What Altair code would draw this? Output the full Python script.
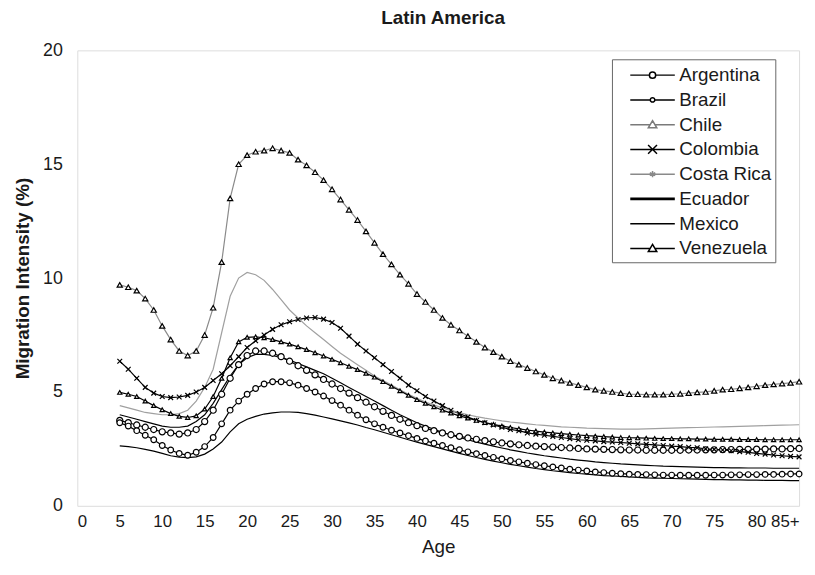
import altair as alt
import pandas as pd

# ---------------- data ----------------
ages = list(range(5, 86))
countries = ["Argentina", "Brazil", "Chile", "Colombia", "Costa Rica", "Ecuador", "Mexico", "Venezuela"]
x_ticks = list(range(0, 90, 5))
y_ticks = [0, 5, 10, 15, 20]

argentina = [3.75, 3.65, 3.55, 3.45, 3.35, 3.25, 3.2, 3.15, 3.2, 3.35,
             3.7, 4.2, 4.9, 5.6, 6.2, 6.6, 6.8, 6.8, 6.7, 6.55,
             6.35, 6.15, 5.95, 5.75, 5.55, 5.35, 5.15, 4.95, 4.75, 4.55,
             4.35, 4.15, 3.97, 3.8, 3.65, 3.52, 3.4, 3.3, 3.2, 3.12,
             3.05, 2.98, 2.92, 2.86, 2.81, 2.76, 2.72, 2.68, 2.65, 2.62,
             2.6, 2.58, 2.56, 2.54, 2.52, 2.5, 2.49, 2.48, 2.47, 2.46,
             2.45, 2.45, 2.44, 2.44, 2.44, 2.44, 2.44, 2.45, 2.45, 2.46,
             2.46, 2.47, 2.47, 2.48, 2.48, 2.49, 2.49, 2.5, 2.5, 2.51,
             2.52]
brazil = [3.65, 3.5, 3.3, 3.1, 2.9, 2.65, 2.45, 2.3, 2.22, 2.35,
          2.6, 3.0, 3.6, 4.2, 4.6, 4.9, 5.15, 5.35, 5.45, 5.45,
          5.4, 5.3, 5.15, 5.0, 4.82, 4.62, 4.42, 4.2, 3.98, 3.78,
          3.6, 3.45, 3.32, 3.2, 3.08, 2.96, 2.85, 2.75, 2.65, 2.55,
          2.46, 2.37, 2.29, 2.21, 2.13, 2.06, 1.99, 1.93, 1.87, 1.81,
          1.76, 1.71, 1.66, 1.61, 1.57, 1.53, 1.49, 1.46, 1.43, 1.41,
          1.39, 1.38, 1.37, 1.36, 1.35, 1.35, 1.34, 1.34, 1.34, 1.34,
          1.35, 1.35, 1.36, 1.36, 1.37, 1.37, 1.38, 1.38, 1.39, 1.4,
          1.4]
chile = [9.7, 9.6, 9.45, 9.1, 8.6, 7.9, 7.3, 6.8, 6.6, 6.8,
         7.5, 8.7, 10.7, 13.5, 15.0, 15.4, 15.55, 15.6, 15.7, 15.6,
         15.5, 15.2, 14.95, 14.65, 14.3, 13.9, 13.45, 13.0, 12.55, 12.05,
         11.55, 11.05, 10.6, 10.15, 9.75, 9.3, 8.95, 8.6, 8.25, 7.95,
         7.7, 7.45, 7.2, 6.95, 6.75, 6.55, 6.35, 6.2, 6.05, 5.9,
         5.75, 5.6, 5.5, 5.4, 5.3, 5.2, 5.1, 5.05, 5.0, 4.95,
         4.9, 4.9, 4.88, 4.88, 4.88, 4.9, 4.92, 4.95, 4.98, 5.0,
         5.05, 5.1, 5.12, 5.16, 5.2, 5.25, 5.3, 5.33, 5.37, 5.4,
         5.45]
colombia = [6.35, 6.0, 5.6, 5.2, 4.95, 4.8, 4.75, 4.78, 4.85, 5.0,
            5.2, 5.5, 5.8, 6.15, 6.55, 6.95, 7.25, 7.5, 7.75, 7.95,
            8.08, 8.18, 8.25, 8.27, 8.2, 8.05, 7.8, 7.45, 7.1, 6.8,
            6.5, 6.2, 5.9, 5.6, 5.3, 5.05, 4.8, 4.6, 4.4, 4.2,
            4.05, 3.9, 3.75, 3.65, 3.55, 3.45, 3.35, 3.3, 3.2, 3.15,
            3.1, 3.05, 3.0, 2.95, 2.9, 2.88, 2.85, 2.82, 2.8, 2.78,
            2.75, 2.72, 2.7, 2.68, 2.65, 2.62, 2.6, 2.57, 2.55, 2.5,
            2.48, 2.45, 2.42, 2.38, 2.35, 2.3, 2.27, 2.23, 2.2, 2.17,
            2.15]
costa_rica = [4.4, 4.3, 4.2, 4.1, 4.05, 4.0, 4.0, 4.05, 4.2, 4.6,
              5.2, 6.0, 7.6, 9.2, 10.0, 10.25, 10.15, 9.9, 9.5, 9.05,
              8.6, 8.25, 7.9, 7.6, 7.3, 7.0, 6.7, 6.45, 6.2, 5.95,
              5.7, 5.5, 5.3, 5.1, 4.9, 4.72, 4.56, 4.42, 4.3, 4.19,
              4.09, 4.0, 3.92, 3.85, 3.79, 3.73, 3.68, 3.64, 3.6, 3.56,
              3.53, 3.5, 3.47, 3.45, 3.43, 3.41, 3.4, 3.39, 3.38, 3.37,
              3.37, 3.37, 3.38, 3.39, 3.4, 3.41, 3.42, 3.43, 3.44, 3.45,
              3.46, 3.47, 3.48, 3.49, 3.5, 3.51, 3.52, 3.53, 3.54, 3.55,
              3.56]
ecuador = [2.63, 2.6, 2.55, 2.48, 2.4, 2.3, 2.2, 2.14, 2.12, 2.15,
           2.27, 2.5, 2.8, 3.25, 3.6, 3.8, 3.93, 4.03, 4.08, 4.12,
           4.12, 4.1, 4.05, 3.98, 3.9, 3.82, 3.73, 3.64, 3.55, 3.44,
           3.34, 3.23, 3.12, 3.01, 2.9, 2.8, 2.7, 2.6, 2.5, 2.4,
           2.3, 2.21, 2.12, 2.04, 1.96, 1.89, 1.82, 1.76, 1.7, 1.64,
           1.59, 1.54, 1.5, 1.46, 1.42, 1.39, 1.36, 1.33, 1.31, 1.29,
           1.27, 1.25, 1.23, 1.22, 1.21, 1.2, 1.19, 1.18, 1.17, 1.16,
           1.15, 1.15, 1.14, 1.14, 1.13, 1.13, 1.12, 1.12, 1.12, 1.11,
           1.11]
mexico = [4.0, 3.9, 3.8, 3.7, 3.6, 3.5, 3.45, 3.45, 3.5, 3.7,
          4.0, 4.5, 5.1, 5.7, 6.2, 6.5, 6.65, 6.65, 6.6, 6.5,
          6.4, 6.25, 6.1, 5.95, 5.8, 5.6, 5.4, 5.2, 5.0, 4.8,
          4.6, 4.4, 4.2, 4.0, 3.82, 3.65, 3.5, 3.36, 3.23, 3.11,
          3.0, 2.9, 2.8, 2.71, 2.62, 2.54, 2.46, 2.39, 2.32, 2.26,
          2.2, 2.15, 2.1, 2.05, 2.01, 1.97, 1.93, 1.9, 1.87, 1.84,
          1.82, 1.8, 1.78, 1.76, 1.74, 1.73, 1.72, 1.71, 1.7, 1.69,
          1.68, 1.68, 1.67, 1.67, 1.66, 1.66, 1.66, 1.65, 1.65, 1.65,
          1.65]
venezuela = [4.98, 4.9, 4.8, 4.6, 4.4, 4.22, 4.05, 3.93, 3.88, 3.95,
             4.25, 4.8, 5.6, 6.5, 7.2, 7.4, 7.42, 7.38, 7.3, 7.2,
             7.1, 6.98, 6.86, 6.72, 6.58, 6.43, 6.28, 6.13, 5.98, 5.82,
             5.65, 5.45, 5.25, 5.05, 4.85, 4.66, 4.5, 4.35, 4.2, 4.07,
             3.95, 3.85, 3.75, 3.66, 3.58, 3.5, 3.44, 3.38, 3.33, 3.28,
             3.24, 3.2, 3.17, 3.14, 3.11, 3.08, 3.06, 3.04, 3.02, 3.0,
             2.99, 2.98, 2.97, 2.96, 2.95, 2.95, 2.94, 2.94, 2.93, 2.93,
             2.92, 2.92, 2.92, 2.91, 2.91, 2.91, 2.9, 2.9, 2.9, 2.9,
             2.9]

series = {
    "Argentina": argentina, "Brazil": brazil, "Chile": chile, "Colombia": colombia,
    "Costa Rica": costa_rica, "Ecuador": ecuador, "Mexico": mexico, "Venezuela": venezuela,
}
rows = []
for c in countries:
    for a, v in zip(ages, series[c]):
        rows.append({"Country": c, "Age": a, "Value": v})
df = pd.DataFrame(rows)

# ---------------- styles ----------------
FONT = "Liberation Sans"
TXT = "#1a1a1a"
line_colors = ["#000000", "#000000", "#8a8a8a", "#000000", "#a0a0a0", "#000000", "#000000", "#000000"]
line_widths = [1.2, 1.2, 1.6, 1.3, 2.0, 2.4, 1.3, 1.3]

marker_countries = ["Argentina", "Brazil", "Chile", "Colombia", "Venezuela"]
X_PATH = "M-1,-1L1,1M-1,1L1,-1"
marker_shapes = ["circle", "circle", "triangle-up", X_PATH, "triangle-up"]
marker_sizes = [38, 18, 75, 80, 75]

# legend symbols: line segment + marker (unit = sqrt(size)/2 px)
leg_paths = [
    "M-2,0L-0.28,0M0.28,0L2,0M0.28,0A0.28,0.28 0 1 1 -0.28,0A0.28,0.28 0 1 1 0.28,0",
    "M-2,0L-0.2,0M0.2,0L2,0M0.2,0A0.2,0.2 0 1 1 -0.2,0A0.2,0.2 0 1 1 0.2,0",
    "M-2,0L-0.2,0M0.2,0L2,0M0,-0.36L0.38,0.28L-0.38,0.28Z",
    "M-2,0L2,0M-0.4,-0.4L0.4,0.4M-0.4,0.4L0.4,-0.4",
    "M-2,0L2,0M0,-0.28L0,0.28M-0.24,-0.14L0.24,0.14M-0.24,0.14L0.24,-0.14",
    "M-2,-0.05L2,-0.05M-2,0.05L2,0.05",
    "M-2,0L2,0",
    "M-2,0L-0.2,0M0.2,0L2,0M0,-0.36L0.38,0.28L-0.38,0.28Z",
]
leg_colors = ["#000000", "#000000", "#7a7a7a", "#000000", "#8a8a8a", "#000000", "#000000", "#000000"]

NB = "\u00a0" * 6
legend = alt.Legend(
    title=None, orient="none", legendX=540, legendY=9,
    symbolSize=506, symbolStrokeWidth=1.5, symbolOffset=25, labelOffset=15,
    labelFont=FONT, labelFontSize=19, labelColor=TXT,
    strokeColor="#666666", padding=4, rowPadding=3,
    labelExpr=f"datum.label + '{NB}'",
)

x_enc = alt.X("Age:Q", scale=alt.Scale(domain=[0, 85], nice=False, zero=False),
              axis=alt.Axis(values=x_ticks, title="Age", grid=False, domain=False, ticks=False,
                            labelExpr="datum.value == 85 ? '\u2002' + '85+' : datum.label",
                            labelFont=FONT, labelFontSize=17, labelColor=TXT, labelPadding=8,
                            titleFont=FONT, titleFontSize=19, titleFontWeight="normal",
                            titleColor=TXT, titlePadding=8))
y_enc = alt.Y("Value:Q", scale=alt.Scale(domain=[0, 20], nice=False),
              axis=alt.Axis(values=y_ticks, title="Migration Intensity (%)", grid=False, domain=False,
                            ticks=False, labelFont=FONT, labelFontSize=18, labelColor=TXT,
                            labelPadding=15, titleFont=FONT, titleFontSize=19, titleFontWeight="bold",
                            titleColor=TXT, titlePadding=10))

lines = alt.Chart(df).mark_line().encode(
    x=x_enc, y=y_enc,
    color=alt.Color("Country:N", scale=alt.Scale(domain=countries, range=line_colors), legend=None),
    strokeWidth=alt.StrokeWidth("Country:N", scale=alt.Scale(domain=countries, range=line_widths), legend=None),
    detail="Country:N",
)

points = alt.Chart(df).transform_filter(
    alt.FieldOneOfPredicate(field="Country", oneOf=marker_countries)
).mark_point(filled=False, fill="white", stroke="black", strokeWidth=1.2, opacity=1).encode(
    x="Age:Q", y="Value:Q",
    shape=alt.Shape("Country:N", scale=alt.Scale(domain=marker_countries, range=marker_shapes), legend=None),
    size=alt.Size("Country:N", scale=alt.Scale(domain=marker_countries, range=marker_sizes), legend=None),
)

legend_layer = alt.Chart(df).transform_filter("false").mark_point(filled=False, opacity=1).encode(
    x="Age:Q", y="Value:Q",
    color=alt.Color("Country:N", scale=alt.Scale(domain=countries, range=leg_colors), legend=legend),
    shape=alt.Shape("Country:N", scale=alt.Scale(domain=countries, range=leg_paths), legend=legend),
)

chart = alt.layer(lines, points, legend_layer).resolve_scale(
    color="independent", shape="independent", size="independent", strokeWidth="independent"
).properties(
    width=729, height=460,
    title=alt.Title("Latin America", font=FONT, fontSize=19, fontWeight="bold", color=TXT,
                    offset=14, dx=5),
    autosize=alt.AutoSizeParams(type="none"),
    padding={"left": 70, "top": 40, "right": 8, "bottom": 60},
).configure_view(stroke="#9a9a9a", strokeWidth=1.5).configure(background="white")

chart.save("out.html", embed_options={"renderer": "svg", "actions": False})
